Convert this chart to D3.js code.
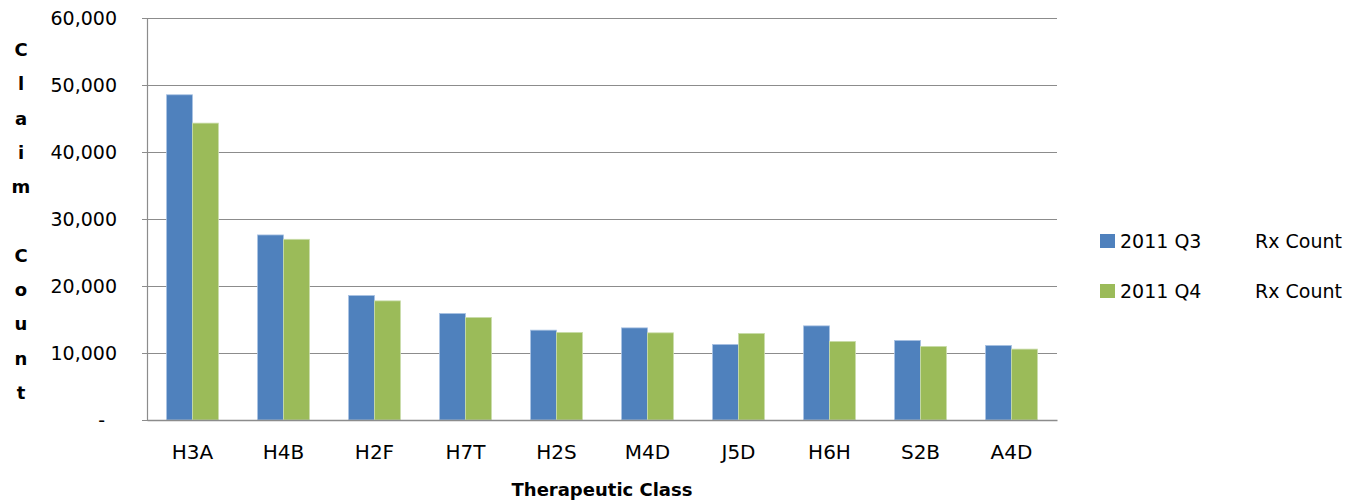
<!DOCTYPE html>
<html>
<head>
<meta charset="utf-8">
<script src="https://cdnjs.cloudflare.com/ajax/libs/d3/7.8.5/d3.min.js"></script>
<style>
  body { margin: 0; background: #fff; }
  text { font-family: "DejaVu Sans", sans-serif; fill: #000; }
</style>
</head>
<body>
<div id="chart"></div>
<script>
// Data
const categories = ["H3A", "H4B", "H2F", "H7T", "H2S", "M4D", "J5D", "H6H", "S2B", "A4D"];
const q3Values = [48540, 27620, 18580, 15900, 13410, 13750, 11280, 14050, 11880, 11130];
const q4Values = [44310, 26970, 17780, 15300, 13070, 13010, 12920, 11730, 10980, 10580];
const seriesNames = ["2011 Q3", "2011 Q4"];
const seriesColors = ["#4F81BD", "#9BBB59"];
const yTicks = [0, 10000, 20000, 30000, 40000, 50000, 60000];

const width = 1348, height = 503;
const margin = {top: 18, right: 291, bottom: 83, left: 147};

const svg = d3.select("#chart").append("svg")
    .attr("width", width)
    .attr("height", height);

const x = d3.scaleBand()
    .domain(categories)
    .range([margin.left, width - margin.right])
    .paddingInner(0.43)
    .paddingOuter(0.215);

const xSub = d3.scaleBand()
    .domain(seriesNames)
    .range([0, x.bandwidth()]);

const y = d3.scaleLinear()
    .domain([0, 60000])
    .range([height - margin.bottom, margin.top]);

// Gridlines
svg.append("g")
    .selectAll("line")
    .data(yTicks.filter(d => d > 0))
    .join("line")
    .attr("x1", margin.left)
    .attr("x2", width - margin.right)
    .attr("y1", d => y(d) + 0.5)
    .attr("y2", d => y(d) + 0.5)
    .attr("stroke", "#8c8c8c")
    .attr("stroke-width", 1.2);

// Y axis
const yAxis = svg.append("g")
    .attr("transform", `translate(${margin.left},0)`)
    .call(d3.axisLeft(y)
        .tickValues(yTicks)
        .tickSize(5)
        .tickPadding(25)
        .tickFormat(d => d === 0 ? "-" : d3.format(",")(d)));
yAxis.select(".domain").attr("stroke", "#8c8c8c").attr("stroke-width", 1.2);
yAxis.selectAll(".tick line").attr("stroke", "#8c8c8c");
yAxis.selectAll(".tick text")
    .attr("font-size", 19)
    .attr("dy", "0.35em")
    .attr("dx", d => d === 0 ? -12 : 0);

// Bars
const groups = svg.append("g")
    .selectAll("g")
    .data(categories.map((c, i) => ({c, vals: [q3Values[i], q4Values[i]]})))
    .join("g")
    .attr("transform", d => `translate(${x(d.c)},0)`);

groups.selectAll("rect")
    .data(d => d.vals.map((v, j) => ({v, j})))
    .join("rect")
    .attr("x", d => xSub(seriesNames[d.j]))
    .attr("y", d => y(d.v))
    .attr("width", xSub.bandwidth())
    .attr("height", d => y(0) - y(d.v))
    .attr("fill", d => seriesColors[d.j])
    .attr("stroke", d => d.j === 0 ? "#a9c2e3" : "#c9dcaa")
    .attr("stroke-width", 0.8);

// X axis
const xAxis = svg.append("g")
    .attr("transform", `translate(0,${y(0)})`)
    .call(d3.axisBottom(x).tickSize(0).tickPadding(25));
xAxis.select(".domain").attr("stroke", "#8c8c8c").attr("stroke-width", 1.5);
xAxis.selectAll(".tick text")
    .attr("font-family", "'Liberation Sans', sans-serif")
    .attr("font-size", 20);

// Axis titles
svg.append("text")
    .attr("x", (margin.left + width - margin.right) / 2)
    .attr("y", 496)
    .attr("text-anchor", "middle")
    .attr("font-family", "'Liberation Sans', sans-serif")
    .attr("font-size", 18)
    .attr("font-weight", "bold")
    .text("Therapeutic Class");

const yTitle = "Claim Count".split("");
svg.append("g")
    .selectAll("text")
    .data(yTitle)
    .join("text")
    .attr("x", 21)
    .attr("y", (d, i) => 56 + i * 34.3)
    .attr("text-anchor", "middle")
    .attr("font-family", "'Liberation Sans', sans-serif")
    .attr("font-size", 18)
    .attr("font-weight", "bold")
    .text(d => d);

// Legend
const legend = svg.append("g")
    .selectAll("g")
    .data(seriesNames)
    .join("g")
    .attr("transform", (d, i) => `translate(1100,${234 + i * 50})`);
legend.append("rect")
    .attr("width", 15)
    .attr("height", 14)
    .attr("fill", (d, i) => seriesColors[i]);
legend.append("text")
    .attr("x", 20)
    .attr("y", 14)
    .attr("font-size", 19)
    .text(d => d);
legend.append("text")
    .attr("x", 155)
    .attr("y", 14)
    .attr("font-size", 19)
    .text("Rx Count");
</script>
</body>
</html>
